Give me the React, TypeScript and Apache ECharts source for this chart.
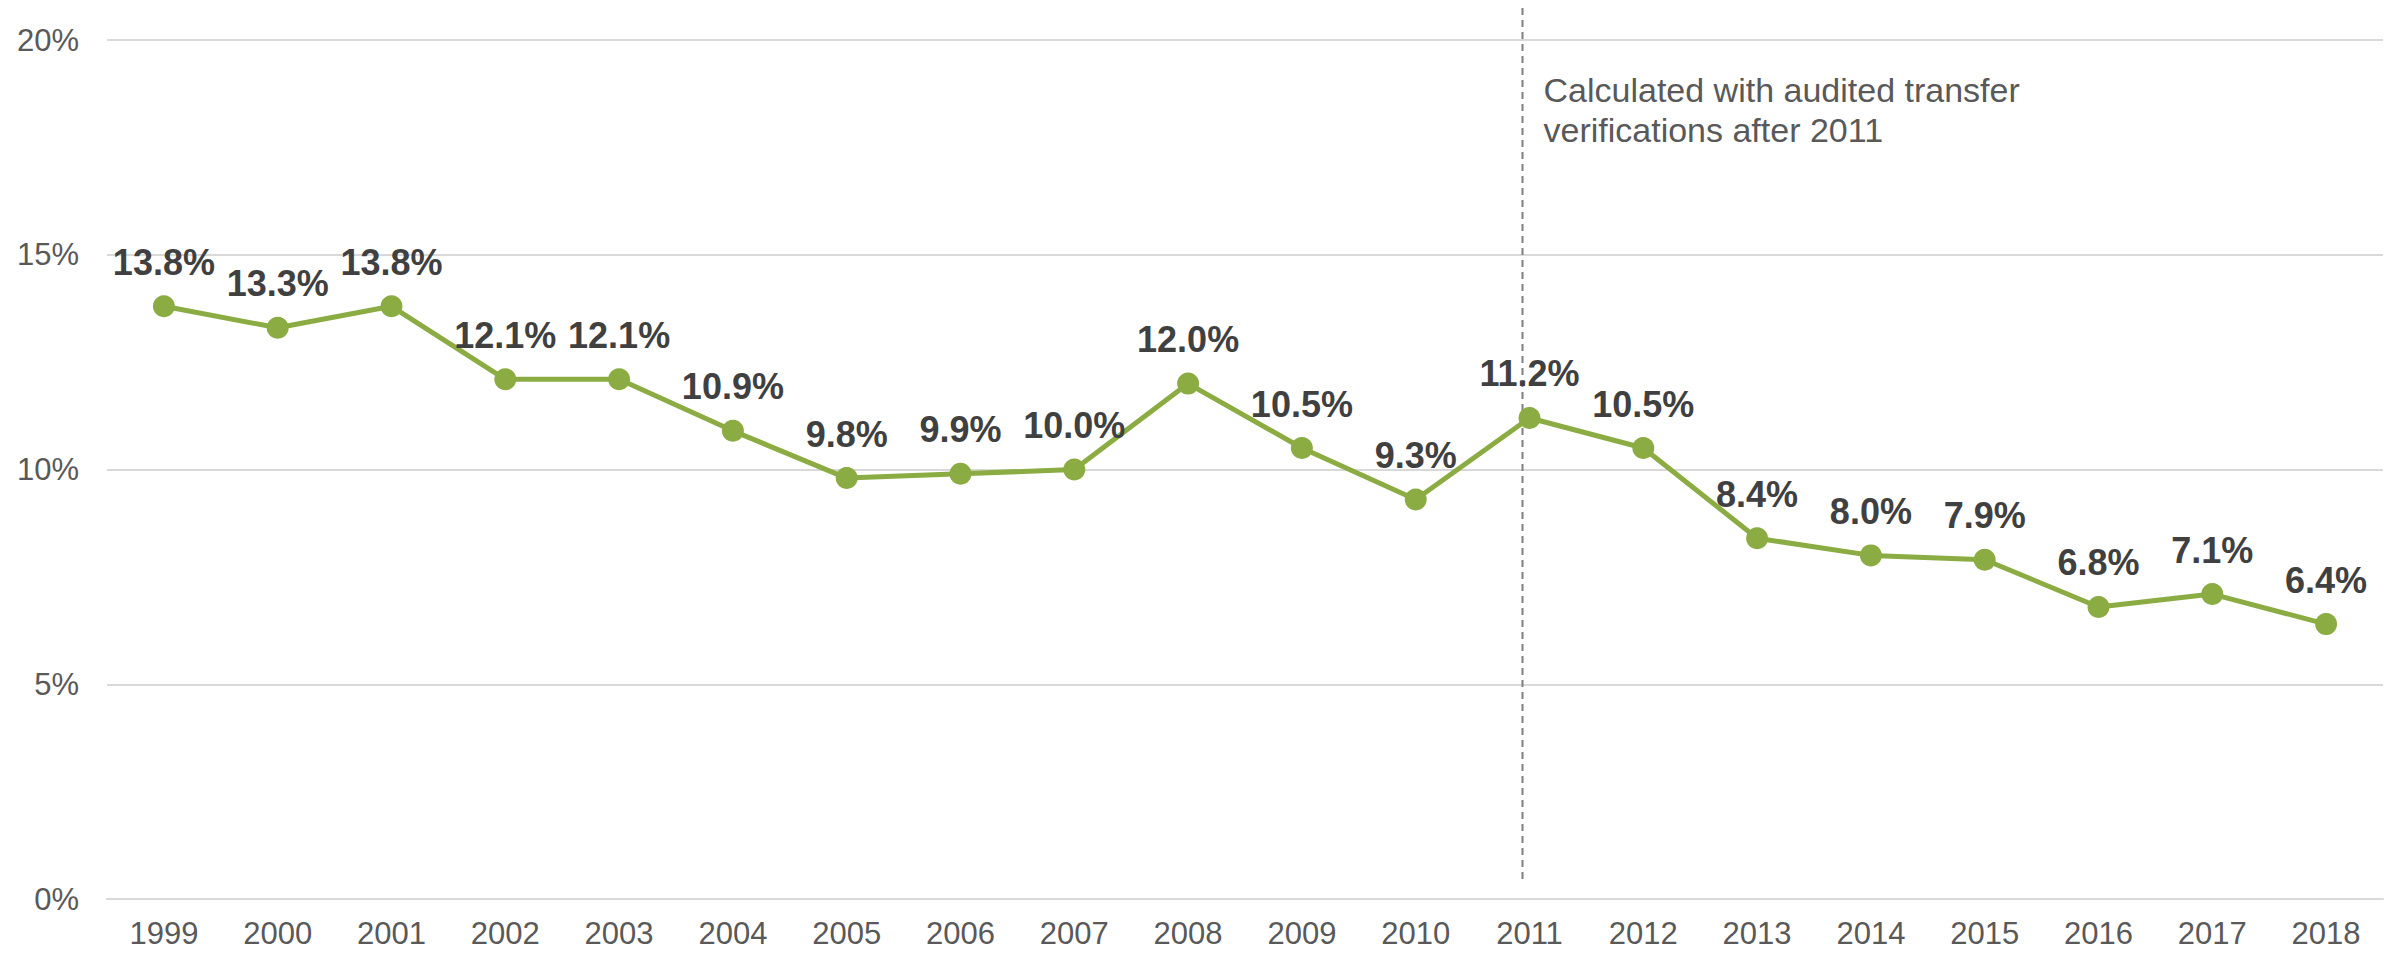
import React, { useEffect, useRef } from "react";
import * as echarts from "echarts";

const years = ["1999","2000","2001","2002","2003","2004","2005","2006","2007","2008","2009","2010","2011","2012","2013","2014","2015","2016","2017","2018"];
const rates = [13.8,13.3,13.8,12.1,12.1,10.9,9.8,9.9,10.0,12.0,10.5,9.3,11.2,10.5,8.4,8.0,7.9,6.8,7.1,6.4];
const yTicks = [0, 5, 10, 15, 20];
const noteYear = "2011";
const noteLines = ["Calculated with audited transfer", "verifications after 2011"];

const FONT = "'Liberation Sans', Arial, sans-serif";

export default function App() {
  const ref = useRef<HTMLDivElement>(null);
  useEffect(() => {
    if (!ref.current) return;
    const chart = echarts.init(ref.current, undefined, { renderer: "svg" });
    chart.setOption({
      animation: false,
      backgroundColor: "#ffffff",
      grid: { left: 107, right: 20, top: 40, bottom: 56, containLabel: false },
      xAxis: {
        type: "category",
        data: years,
        boundaryGap: true,
        axisLine: { show: true, lineStyle: { color: "#D9D9D9", width: 2 } },
        axisTick: { show: false },
        axisLabel: { color: "#595959", fontSize: 31, fontFamily: FONT, margin: 19 },
      },
      yAxis: {
        type: "value",
        min: yTicks[0],
        max: yTicks[yTicks.length - 1],
        interval: 5,
        axisLine: { show: false },
        axisTick: { show: false },
        splitLine: { lineStyle: { color: "#D9D9D9", width: 2 } },
        axisLabel: { color: "#595959", fontSize: 31, fontFamily: FONT, margin: 28, formatter: "{value}%" },
      },
      series: [
        {
          type: "line",
          data: rates,
          symbol: "circle",
          symbolSize: 22,
          itemStyle: { color: "#8BAC42" },
          lineStyle: { color: "#8BAC42", width: 5 },
          label: {
            show: true,
            position: "top",
            distance: 15,
            color: "#404040",
            fontSize: 36,
            fontWeight: "bold",
            fontFamily: FONT,
            formatter: (p: any) => p.value.toFixed(1) + "%",
          },
        },
      ],
    });
    const cx = chart.convertToPixel({ xAxisIndex: 0 }, noteYear) as number;
    const yTop = chart.convertToPixel({ yAxisIndex: 0 }, yTicks[yTicks.length - 1]) as number;
    const yBot = chart.convertToPixel({ yAxisIndex: 0 }, 0) as number;
    chart.setOption({
      graphic: [
        {
          type: "line",
          shape: { x1: cx - 7, y1: yTop - 32, x2: cx - 7, y2: yBot - 16 },
          style: { stroke: "#7F7F7F", lineWidth: 2, lineDash: [7, 5] },
          z: 1,
        },
        {
          type: "text",
          x: cx + 14,
          y: yTop + 30,
          style: {
            text: noteLines.join("\n"),
            fill: "#595959",
            fontSize: 34,
            fontFamily: FONT,
            lineHeight: 40,
            textAlign: "left",
            textVerticalAlign: "top",
          },
          z: 10,
        },
      ],
    });
    return () => chart.dispose();
  }, []);
  return <div ref={ref} style={{ position: "fixed", left: 0, top: 0, width: 2403, height: 955 }} />;
}
